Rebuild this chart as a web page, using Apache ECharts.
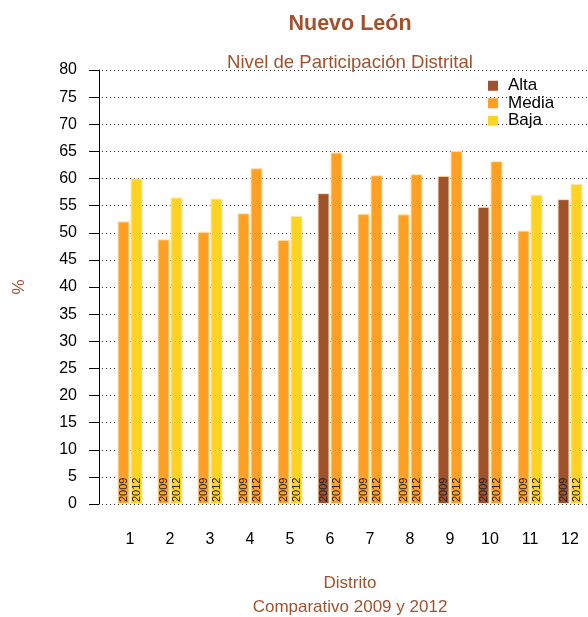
<!DOCTYPE html>
<html>
	<head>
		<meta charset="utf-8">
		<title></title>
	</head>
	<body style="margin:0">
		<div id="container" style="width: 588px;height:617px;"></div>
	</body>
	<script src="https://cdn.jsdelivr.net/npm/echarts@6/dist/echarts.min.js"></script>
	<script type="text/javascript">
		'use strict'

		var distritos = ['1', '2', '3', '4', '5', '6', '7', '8', '9', '10', '11', '12'];
		var v2009 = [52.1, 48.8, 50.2, 53.6, 48.7, 57.3, 53.5, 53.4, 60.5, 54.8, 50.4, 56.2];
		var v2012 = [60.0, 56.5, 56.3, 61.9, 53.1, 64.8, 60.6, 60.8, 65.1, 63.2, 57.0, 59.0];
		var nivel2009 = ['Media', 'Media', 'Media', 'Media', 'Media', 'Alta', 'Media', 'Media', 'Alta', 'Alta', 'Media', 'Alta'];
		var nivel2012 = ['Baja', 'Baja', 'Baja', 'Media', 'Baja', 'Media', 'Media', 'Media', 'Media', 'Media', 'Baja', 'Baja'];
		var niveles = ['Alta', 'Media', 'Baja'];

		var colores = { Alta: '#A0522D', Media: '#FFA024', Baja: '#FFD324' };
		var cafe = '#A0522D';
		var fuente = 'Liberation Sans, Arial, sans-serif';

		function barras(valores, nivel) {
			return valores.map(function(v, i) {
				return { value: v, itemStyle: { color: colores[nivel[i]] } };
			});
		}

		function etiqueta(txt) {
			return {
				show: true,
				position: 'insideBottom',
				rotate: 90,
				align: 'left',
				verticalAlign: 'middle',
				distance: 2,
				formatter: txt,
				fontSize: 11,
				fontFamily: fuente,
				color: '#222'
			};
		}

		var myCharts = echarts.init(document.getElementById('container'));
		var option = {
			animation: false,
			textStyle: { fontFamily: fuente },
			title: [{
				text: 'Nuevo León',
				left: 345,
				top: 8,
				textAlign: 'center',
				textStyle: { fontSize: 21.5, fontWeight: 'bold', color: cafe, fontFamily: fuente }
			}, {
				text: 'Nivel de Participación Distrital',
				left: 345,
				top: 48,
				textAlign: 'center',
				textStyle: { fontSize: 18.6, fontWeight: 'normal', color: cafe, fontFamily: fuente }
			}],
			legend: {
				orient: 'vertical',
				left: 483,
				top: 72,
				itemWidth: 10,
				itemHeight: 10,
				itemGap: 0,
				icon: 'rect',
				data: niveles,
				textStyle: { fontSize: 17, color: '#000', lineHeight: 17.5, padding: [0, 0, 0, 5], fontFamily: fuente }
			},
			grid: [
				{ left: 110, width: 480, top: 70, bottom: 113, outerBoundsMode: 'none' },
				{ left: 102, right: 0, top: 70, bottom: 113, outerBoundsMode: 'none' }
			],
			xAxis: [{
				type: 'category',
				gridIndex: 0,
				data: distritos,
				axisLine: { show: false },
				axisTick: { show: false },
				axisLabel: { fontSize: 16, color: '#000', margin: 28, fontFamily: fuente },
				name: '{a|Distrito}\n{b|Comparativo 2009 y 2012}',
				nameLocation: 'middle',
				nameGap: 67,
				nameTextStyle: {
					rich: {
						a: { fontSize: 17, color: cafe, lineHeight: 24, fontFamily: fuente },
						b: { fontSize: 17, color: cafe, lineHeight: 24, fontFamily: fuente }
					}
				}
			}, {
				type: 'value',
				gridIndex: 1,
				show: false,
				min: 0,
				max: 1
			}],
			yAxis: [{
				type: 'value',
				gridIndex: 0,
				min: 0,
				max: 80,
				interval: 5,
				offset: 11,
				axisLine: { show: true, lineStyle: { color: '#000', width: 1 } },
				axisTick: { show: true, length: 10, lineStyle: { color: '#000' } },
				axisLabel: { fontSize: 16, color: '#000', margin: 22, fontFamily: fuente },
				splitLine: { show: false },
				name: '%',
				nameLocation: 'middle',
				nameRotate: 90,
				nameGap: 71,
				nameTextStyle: { fontSize: 17, color: cafe, fontFamily: fuente }
			}, {
				type: 'value',
				gridIndex: 1,
				min: 0,
				max: 80,
				interval: 5,
				axisLine: { show: false },
				axisTick: { show: false },
				axisLabel: { show: false },
				splitLine: { show: true, lineStyle: { color: '#333', width: 1, type: [1, 3] } }
			}],
			series: [{
				name: '2009',
				type: 'bar',
				barWidth: 12,
				barGap: '8%',
				data: barras(v2009, nivel2009),
				itemStyle: { borderColor: '#FFE8B0', borderWidth: 1 },
				label: etiqueta('2009')
			}, {
				name: '2012',
				type: 'bar',
				barWidth: 12,
				barGap: '8%',
				data: barras(v2012, nivel2012),
				itemStyle: { borderColor: '#FFE8B0', borderWidth: 1 },
				label: etiqueta('2012')
			}].concat(niveles.map(function(n) {
				return {
					name: n,
					type: 'bar',
					xAxisIndex: 1,
					yAxisIndex: 1,
					data: [],
					itemStyle: { color: colores[n] }
				};
			}))
		};
		myCharts.setOption(option);
	</script>
</html>
